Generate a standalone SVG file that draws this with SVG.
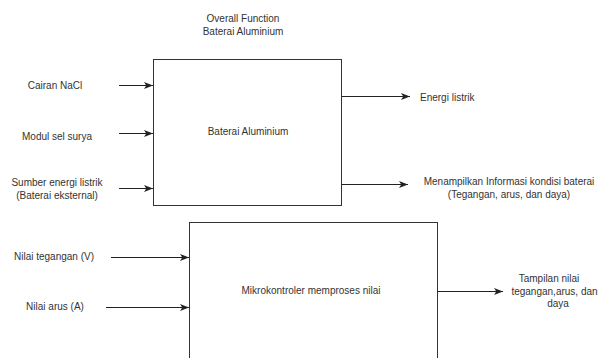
<svg xmlns="http://www.w3.org/2000/svg" width="598" height="358" viewBox="0 0 598 358">
<defs>
<marker id="ah" viewBox="0 0 10 10" refX="10" refY="5" markerWidth="9" markerHeight="9" markerUnits="userSpaceOnUse" orient="auto">
<path d="M0,1 L10,5 L0,9 L2.5,5 Z" fill="#222"/>
</marker>
<style>
text{font-family:"Liberation Sans",Arial,sans-serif;font-size:10px;fill:#333}
.box{fill:#fff;stroke:#333;stroke-width:1}
.c{fill:none;stroke:#222;stroke-width:1;marker-end:url(#ah)}
</style>
</defs>
<rect width="598" height="358" fill="#fff"/>
<g id="title">
<text x="243" y="22" text-anchor="middle">Overall Function</text>
<text x="243" y="35" text-anchor="middle">Baterai Aluminium</text>
</g>
<g id="baterai">
<rect class="box" x="153.5" y="59.5" width="188" height="146"/>
<text x="248" y="135" text-anchor="middle">Baterai Aluminium</text>
</g>
<g id="mikro">
<rect class="box" x="189.5" y="222.5" width="248" height="150"/>
<text x="311" y="294" text-anchor="middle">Mikrokontroler memproses nilai</text>
</g>
<g id="lbl-nacl"><text x="55" y="89" text-anchor="middle">Cairan NaCl</text></g>
<g id="lbl-modul"><text x="57" y="140" text-anchor="middle">Modul sel surya</text></g>
<g id="lbl-sumber">
<text x="57" y="186" text-anchor="middle">Sumber energi listrik</text>
<text x="57" y="199" text-anchor="middle">(Baterai eksternal)</text>
</g>
<g id="lbl-energi"><text x="420" y="101">Energi listrik</text></g>
<g id="lbl-info">
<text x="509" y="185" text-anchor="middle">Menampilkan Informasi kondisi baterai</text>
<text x="509" y="198" text-anchor="middle">(Tegangan, arus, dan daya)</text>
</g>
<g id="lbl-teg"><text x="54" y="260" text-anchor="middle">Nilai tegangan (V)</text></g>
<g id="lbl-arus"><text x="55" y="310" text-anchor="middle">Nilai arus (A)</text></g>
<g id="lbl-tampil">
<text x="549" y="282" text-anchor="middle">Tampilan nilai</text>
<text x="554.5" y="295" text-anchor="middle">tegangan,arus, dan</text>
<text x="558" y="307" text-anchor="middle">daya</text>
</g>
<g id="connectors">
<path class="c" d="M119,85.5 H153"/>
<path class="c" d="M119,133.5 H153"/>
<path class="c" d="M119,188.5 H153"/>
<path class="c" d="M342,96.5 H410"/>
<path class="c" d="M342,184.5 H408"/>
<path class="c" d="M111,257.5 H189"/>
<path class="c" d="M106,307.5 H189"/>
<path class="c" d="M438,291.5 H503"/>
</g>
</svg>
